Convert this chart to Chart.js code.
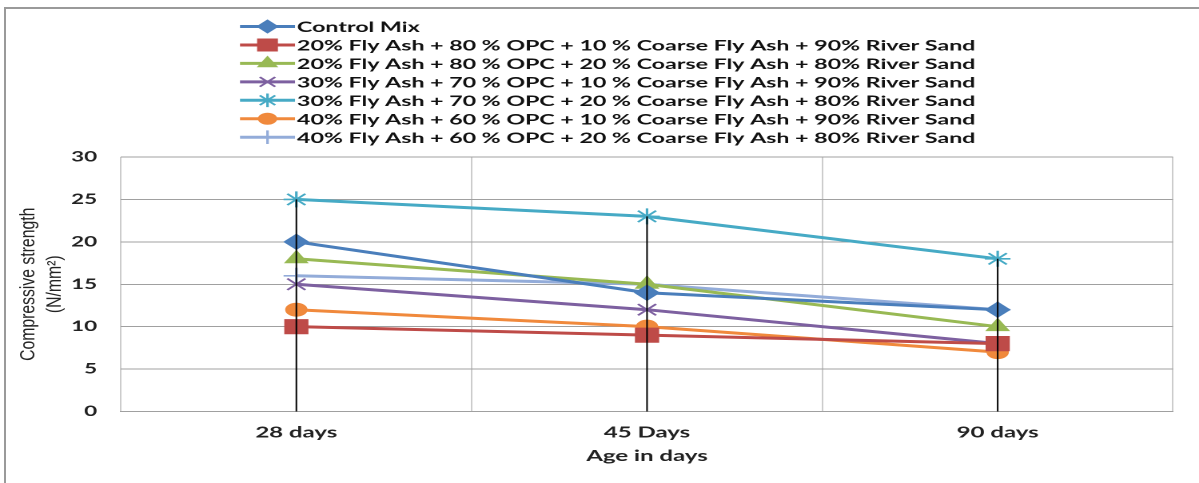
<!DOCTYPE html>
<html>
<head>
<meta charset="utf-8">
<script src="https://cdn.jsdelivr.net/npm/chart.js@4/dist/chart.umd.min.js"></script>
<style>
  html, body { margin: 0; padding: 0; background: #fff; overflow: hidden; }
  #wrap { position: relative; width: 1199px; height: 483px; overflow: hidden; }
  #frame { position: absolute; left: 4px; top: 7px; right: -10px; bottom: -10px;
           border-left: 2px solid #9a9a9a; border-top: 2px solid #9a9a9a; }
  #chart { position: absolute; left: 0; top: 0; transform-origin: 0 0; }
</style>
</head>
<body>
<div id="wrap">
  <div id="frame"></div>
  <canvas id="chart" width="750" height="483"></canvas>
</div>
<script>
// Data
const ageLabels = ["28 days", "45 Days", "90 days"];
const controlMix = [20, 14, 12];
const fa20cfa10 = [10, 9, 8];
const fa20cfa20 = [18, 15, 10];
const fa30cfa10 = [15, 12, 8];
const fa30cfa20 = [25, 23, 18];
const fa40cfa10 = [12, 10, 7];
const fa40cfa20 = [16, 15, 12];
const seriesNames = [
    "Control Mix",
    "20% Fly Ash + 80 % OPC + 10 % Coarse Fly Ash + 90% River Sand",
    "20% Fly Ash + 80 % OPC + 20 % Coarse Fly Ash + 80% River Sand",
    "30% Fly Ash + 70 % OPC + 10 % Coarse Fly Ash + 90% River Sand",
    "30% Fly Ash + 70 % OPC + 20 % Coarse Fly Ash + 80% River Sand",
    "40% Fly Ash + 60 % OPC + 10 % Coarse Fly Ash + 90% River Sand",
    "40% Fly Ash + 60 % OPC + 20 % Coarse Fly Ash + 80% River Sand"
];
const yTicks = [0, 5, 10, 15, 20, 25, 30];
const yTitleLines = ["Compressive strength", "(N/mm\u00B2)"];
const xTitle = "Age in days";

// Layout (canvas is drawn narrow and stretched sideways like the original)
const W = 750;
const S = 1199 / W;
const canvas = document.querySelector("#chart");
canvas.style.transform = `scaleX(${S})`;

const colors = ["#4a7ebb", "#be4b48", "#98b954", "#7d60a0", "#46aac5", "#f0893c", "#93acd9"];
const styles = [
    {pointStyle: "rectRot", radius: 7.5},
    {pointStyle: "rect", radius: 10},
    {pointStyle: "triangle", radius: 8},
    {pointStyle: "crossRot", radius: 8},
    {pointStyle: "star", radius: 8},
    {pointStyle: "circle", radius: 6.5},
    {pointStyle: "cross", radius: 8}
];
const values = [controlMix, fa20cfa10, fa20cfa20, fa30cfa10, fa30cfa20, fa40cfa10, fa40cfa20];

const datasets = values.map((v, i) => ({
    label: seriesNames[i],
    data: v,
    borderColor: colors[i],
    backgroundColor: colors[i],
    borderWidth: 3,
    tension: 0,
    pointStyle: styles[i].pointStyle,
    pointRadius: styles[i].radius,
    pointHoverRadius: styles[i].radius,
    pointBackgroundColor: colors[i],
    pointBorderColor: colors[i],
    pointBorderWidth: (styles[i].pointStyle.startsWith("cross") || styles[i].pointStyle === "star") ? 1.6 : 1
}));

// Plugins
const dropLines = {
    id: "dropLines",
    afterDatasetsDraw(chart) {
        const {ctx, scales: {x, y}} = chart;
        ctx.save();
        ctx.strokeStyle = "#000";
        ctx.lineWidth = 1;
        chart.data.labels.forEach((l, i) => {
            const top = Math.max(...chart.data.datasets.map(d => d.data[i]));
            const px = x.getPixelForValue(i);
            ctx.beginPath();
            ctx.moveTo(px, y.getPixelForValue(top));
            ctx.lineTo(px, y.getPixelForValue(0));
            ctx.stroke();
        });
        ctx.restore();
    }
};

const listLegend = {
    id: "listLegend",
    afterDraw(chart) {
        const ctx = chart.ctx;
        const x0 = 240 / S, x1 = 295 / S, tx = 297 / S;
        ctx.save();
        ctx.font = "bold 14.5px Lato";
        ctx.textBaseline = "middle";
        ctx.fillStyle = "#111";
        chart.data.datasets.forEach((d, i) => {
            const yy = 26.5 + i * 18.45;
            ctx.strokeStyle = d.borderColor;
            ctx.lineWidth = 3;
            ctx.beginPath();
            ctx.moveTo(x0, yy);
            ctx.lineTo(x1, yy);
            ctx.stroke();
            if (Chart.helpers && Chart.helpers.drawPoint) {
                ctx.fillStyle = d.borderColor;
                ctx.lineWidth = d.pointBorderWidth;
                Chart.helpers.drawPoint(ctx, {
                    pointStyle: d.pointStyle,
                    radius: d.pointRadius * 0.85,
                    rotation: 0,
                    borderWidth: d.pointBorderWidth
                }, (x0 + x1) / 2, yy);
            }
            ctx.fillStyle = "#111";
            ctx.fillText(d.label, tx, yy + 1);
        });
        ctx.restore();
    }
};

const yTitle = {
    id: "yTitle",
    afterDraw(chart) {
        const {ctx, chartArea} = chart;
        const cy = (chartArea.top + chartArea.bottom) / 2;
        ctx.save();
        ctx.font = "21px 'Liberation Sans'";
        ctx.fillStyle = "#222";
        ctx.textAlign = "center";
        ctx.textBaseline = "alphabetic";
        [34, 61].forEach((sx, i) => {
            ctx.save();
            ctx.translate(sx / S, cy);
            ctx.scale(1 / S, 1);
            ctx.rotate(-Math.PI / 2);
            ctx.scale(0.75, 1);
            ctx.fillText(yTitleLines[i], 0, 0);
            ctx.restore();
        });
        ctx.restore();
    }
};

// Chart
new Chart(canvas, {
    type: "line",
    data: {labels: ageLabels, datasets: datasets},
    plugins: [dropLines, listLegend, yTitle],
    options: {
        responsive: false,
        animation: false,
        devicePixelRatio: 2,
        layout: {padding: {top: 157, right: W - 1173 / S, bottom: 0, left: 0}},
        plugins: {legend: {display: false}, tooltip: {enabled: false}},
        scales: {
            x: {
                offset: true,
                grid: {offset: true, color: "#cccccc", lineWidth: 1, drawTicks: false},
                border: {color: "#a0a0a0"},
                ticks: {padding: 12, color: "#222", font: {family: "Lato", weight: "bold", size: 15}},
                title: {display: true, text: xTitle, color: "#222", padding: {top: 0, bottom: 18},
                        font: {family: "Lato", weight: "bold", size: 15}},
                afterFit: (s) => { s.height = 483 - 411.5; }
            },
            y: {
                min: 0,
                max: 30,
                afterBuildTicks: (s) => { s.ticks = yTicks.map(v => ({value: v})); },
                grid: {color: "#a0a0a0", lineWidth: 1, drawTicks: false},
                border: {display: false},
                ticks: {padding: 15, color: "#222", font: {family: "Lato", weight: "bold", size: 14}},
                afterFit: (s) => { s.width = 121 / S; }
            }
        }
    }
});
</script>
</body>
</html>
